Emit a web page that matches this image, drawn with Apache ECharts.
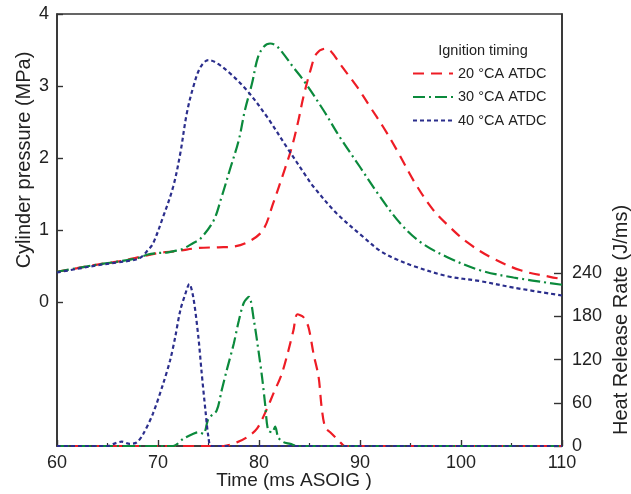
<!DOCTYPE html>
<html>
<head>
<meta charset="utf-8">
<script src="https://cdn.jsdelivr.net/npm/echarts@6/dist/echarts.min.js"></script>
<style>html,body{margin:0;padding:0;background:#fff}#c{width:631px;height:494px}</style>
</head>
<body>
<div id="c"></div>
<script>
// ---- data ----
const seriesNames = ['20 °CA ATDC', '30 °CA ATDC', '40 °CA ATDC'];

// Cylinder pressure (MPa)
const p20T = [60,62,64,66,68,70,72,74,76,77.5,79,80.4,81.4,82.4,83.25,83.9,84.4,85.1,85.7,86.6,87.2,88.0,89.7,91.0,92.3,93.65,95.5,97.3,98.9,100.6,102.9,105.9,108.8,110];
const p20V = [0.42,0.47,0.52,0.56,0.62,0.68,0.71,0.75,0.76,0.77,0.84,1.0,1.37,1.78,2.15,2.52,2.85,3.22,3.45,3.52,3.47,3.31,2.99,2.71,2.43,2.11,1.64,1.27,1.04,0.83,0.625,0.44,0.35,0.32];

const p30T = [60,62,64,66,68,69,70,71,72,72.5,73.5,74.2,75.5,76.3,77.1,78.0,78.6,79.3,79.9,80.5,81.1,81.7,82.4,83.4,84.4,86.4,88.0,90.0,92.0,94.0,96.0,98.6,101.9,105.2,110];
const p30V = [0.42,0.47,0.52,0.56,0.61,0.66,0.68,0.69,0.72,0.74,0.82,0.88,1.13,1.46,1.83,2.25,2.66,3.03,3.40,3.55,3.59,3.56,3.45,3.26,3.08,2.66,2.29,1.875,1.46,1.09,0.83,0.625,0.44,0.34,0.24];

const p40T = [60,62,64,66,67.5,68.3,69.0,69.5,70.5,71.5,72.2,72.85,73.5,74.2,75.0,75.8,77.1,78.8,80.8,82.75,84.7,85.4,87.7,90.35,92.0,93.65,95.3,98.6,101.9,105.2,110];
const p40V = [0.41,0.46,0.51,0.55,0.58,0.62,0.72,0.81,1.18,1.6,2.06,2.62,2.99,3.26,3.36,3.32,3.18,2.94,2.57,2.15,1.74,1.60,1.23,0.90,0.71,0.59,0.50,0.36,0.29,0.20,0.09];

// Heat release rate (J/ms)
const h20T = [60,76.5,77.8,78.8,79.8,80.8,81.4,82.25,82.9,83.4,83.8,84.4,84.9,85.4,85.9,86.2,86.55,87.05,87.7,88.2,88.5,110];
const h20V = [0,0,5,12,24,52,72,100,132,160,183,179,165,128,96,54,26,19,10,3,0,0];

const h30T = [60,71.5,72.5,73.5,74.0,74.5,75.0,75.8,76.3,76.8,77.5,78.0,78.5,79.0,79.5,79.95,80.3,80.6,80.9,81.3,81.6,81.9,82.4,83.1,83.8,110];
const h30V = [0,0,10,17,19,17,38,49,77,105,142,174,199,207,174,132,96,59,22,19,27,12,5.5,3,0,0];

const h40T = [60,65,65.8,66.4,67.2,67.9,68.55,69.5,70.5,71.2,71.7,72.2,72.7,73.1,73.5,74.0,74.3,74.7,75.0,75.3,110];
const h40V = [0,0,4,6,3,5,17,45,86,119,151,188,211,225,206,151,105,49,12,0,0];

const xTicks = [60,70,80,90,100,110];
const pressureTicks = [0,1,2,3,4];
const hrrTicks = [0,60,120,180,240];

// ---- chart ----
const zip = (t, v) => t.map((x, i) => [x, v[i]]);
const colors = ['#ee1c25', '#0b8a3c', '#2b2e8c'];
const dashes = [[11, 7], [12, 4, 2, 4], [4, 3]];
const FONT = "'Liberation Sans', Arial, sans-serif";

const pData = [zip(p20T, p20V), zip(p30T, p30V), zip(p40T, p40V)];
const hData = [zip(h20T, h20V), zip(h30T, h30V), zip(h40T, h40V)];

const series = [];
for (let i = 0; i < 3; i++) {
  series.push({
    name: seriesNames[i], type: 'line', yAxisIndex: 0, data: pData[i],
    symbol: 'none', smooth: 0.35, color: colors[i],
    lineStyle: { color: colors[i], width: 2.2, type: dashes[i] }
  });
}
for (let i = 0; i < 3; i++) {
  series.push({
    name: seriesNames[i], type: 'line', yAxisIndex: 1, data: hData[i],
    symbol: 'none', smooth: 0.3, color: colors[i],
    lineStyle: { color: colors[i], width: 2.2, type: dashes[i] }
  });
}

const axisLine = { show: true, onZero: false, lineStyle: { color: '#333', width: 1.6 } };
const labelStyle = { fontSize: 18, color: '#222', fontFamily: FONT };

const chart = echarts.init(document.getElementById('c'), null, { renderer: 'canvas' });
chart.setOption({
  animation: false,
  backgroundColor: '#fff',
  grid: { left: 57, right: 69, top: 14, bottom: 48, show: true, borderColor: '#333', borderWidth: 1.6, containLabel: false },
  legend: {
    data: seriesNames, orient: 'vertical', left: 407, top: 61,
    itemWidth: 40, itemHeight: 14, itemGap: 8.5,
    itemStyle: { opacity: 0 },
    textStyle: { fontSize: 14.5, color: '#222', fontFamily: FONT }
  },
  xAxis: {
    type: 'value', min: 60, max: 110, interval: 10,
    axisLine: axisLine,
    axisTick: { show: true, inside: true, length: 6, lineStyle: { color: '#333', width: 1.4 } },
    minorTick: { show: true, splitNumber: 2, length: 3, lineStyle: { color: '#333', width: 1.2 } },
    axisLabel: Object.assign({ margin: 8, customValues: xTicks }, labelStyle),
    splitLine: { show: false }
  },
  yAxis: [
    {
      type: 'value', min: -2, max: 4, interval: 1, position: 'left',
      axisLine: axisLine,
      axisTick: { show: true, inside: true, length: 6, customValues: pressureTicks, lineStyle: { color: '#333', width: 1.4 } },
      axisLabel: Object.assign({ margin: 8, customValues: pressureTicks, formatter: v => (v < 0 ? '' : String(v)) }, labelStyle),
      splitLine: { show: false }
    },
    {
      type: 'value', min: 0, max: 600, interval: 60, position: 'right',
      axisLine: axisLine,
      axisTick: { show: true, inside: true, length: 8, customValues: hrrTicks, lineStyle: { color: '#333', width: 1.4 } },
      axisLabel: Object.assign({ margin: 10, customValues: hrrTicks, formatter: v => (v > 240 ? '' : String(v)) }, labelStyle),
      splitLine: { show: false }
    }
  ],
  graphic: [
    { type: 'text', x: 24, y: 160, rotation: Math.PI / 2,
      style: { text: 'Cylinder pressure (MPa)', font: "20px " + FONT, fill: '#222', textAlign: 'center', textVerticalAlign: 'middle' } },
    { type: 'text', x: 621, y: 320, rotation: Math.PI / 2,
      style: { text: 'Heat Release Rate (J/ms)', font: "20px " + FONT, fill: '#222', textAlign: 'center', textVerticalAlign: 'middle' } },
    { type: 'text', x: 294, y: 481,
      style: { text: 'Time (ms ASOIG )', font: "19px " + FONT, fill: '#222', textAlign: 'center', textVerticalAlign: 'middle' } },
    { type: 'text', x: 483, y: 51,
      style: { text: 'Ignition timing', font: "14.5px " + FONT, fill: '#222', textAlign: 'center', textVerticalAlign: 'middle' } }
  ],
  series: series
});
</script>
</body>
</html>
